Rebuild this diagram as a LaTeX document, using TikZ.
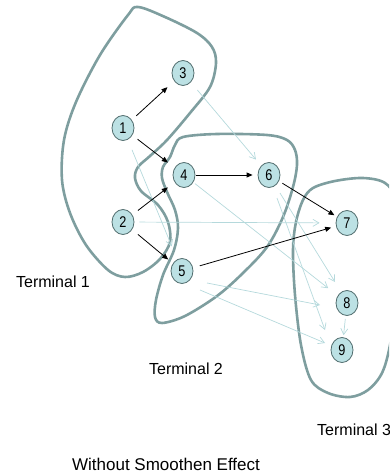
\documentclass[tikz,border=0pt]{standalone}
\usepackage{fontspec}
\setmainfont{Liberation Sans}
\newfontfamily\digitfont[FakeStretch=0.82]{Liberation Sans}
\usetikzlibrary{arrows.meta,calc,shapes.geometric}
\definecolor{blobline}{HTML}{7E9E9F}
\definecolor{nodefill}{HTML}{BCE1E4}
\definecolor{nodeline}{HTML}{4F6B6C}
\definecolor{faint}{HTML}{B5D9DC}
\begin{document}
\begin{tikzpicture}[x=1pt,y=-1pt,
  vertex/.style={ellipse, draw=nodeline, line width=0.8pt, fill=nodefill,
    minimum width=22pt, minimum height=25pt, inner sep=0pt,
    font=\digitfont\fontsize{15.5}{15.5}\selectfont},
  region/.style={draw=blobline, line width=2.6pt},
  strong/.style={-{Triangle[length=6pt,width=5pt]}, line width=0.8pt, black},
  lite/.style={-{Straight Barb[length=6pt,width=7pt]}, line width=0.7pt, faint},
  termtext/.style={font=\fontsize{16}{19}\selectfont, inner sep=0pt}]
\useasboundingbox (0,0) rectangle (389,476);
\clip (0,0) rectangle (389,476);

% terminal regions
\draw[region] plot[smooth cycle, tension=0.55] coordinates {
  (138,7) (165,17) (197,33) (212,47) (216,63) (210,87) (190,113) (167,140)
  (150,156) (138,167) (135,178) (141,191) (158,205) (168,222) (170,242)
  (160,259) (143,272) (125,277) (108,270) (86,245) (70,213) (62,180)
  (64,140) (76,102) (100,55) (128,15)};
\draw[region] plot[smooth cycle, tension=0.55] coordinates {
  (183,137) (217,134) (267,135) (287,140) (295,150) (297,165) (293,187)
  (283,217) (267,247) (243,273) (217,296) (185,316) (162,323) (155,317)
  (156,300) (163,275) (174,250) (178,228) (175,210) (167,192) (162,178)
  (163,167) (170,157) (175,145)};
\draw[region] plot[smooth cycle, tension=0.55] coordinates {
  (313,188) (335,181) (363,178) (385,183) (395,200) (398,250) (396,300)
  (390,345) (382,373) (368,390) (350,397) (328,393) (311,380) (301,345)
  (295,295) (293,250) (296,222) (303,200)};

% vertices
\node[vertex] (n1) at (123,128) {1};
\node[vertex] (n2) at (123,222) {2};
\node[vertex] (n3) at (183,73) {3};
\node[vertex] (n4) at (184,175) {4};
\node[vertex] (n5) at (182,271) {5};
\node[vertex] (n6) at (269,175) {6};
\node[vertex] (n7) at (347,223) {7};
\node[vertex] (n8) at (347,303) {8};
\node[vertex] (n9) at (342,350) {9};

% secondary dependencies
\draw[lite, shorten <=10pt, shorten >=8pt] (n3) -- (n6);
\draw[lite, shorten <=11pt, shorten >=14pt] (n1) -- (n5);
\draw[lite, shorten <=5pt, shorten >=16pt] (n2) -- (n7);
\draw[lite, shorten <=2pt, shorten >=12pt] (n4) -- (n8);
\draw[lite, shorten <=3pt, shorten >=2pt] (n8) -- (n9);
\draw[lite] ($(n6)+(8,23)$) -- ($(n9)+(-17,-20)$);
\draw[lite] ($(n6)+(11,18)$) -- ($(n8)+(-12,-21)$);
\draw[lite] ($(n5)+(25,12)$) -- ($(n8)+(-27,2)$);
\draw[lite] ($(n5)+(18,19)$) -- ($(n9)+(-17,-7)$);

% main dependencies
\draw[strong, shorten <=6pt, shorten >=9pt] (n1) -- (n3);
\draw[strong, shorten <=6.5pt, shorten >=8.5pt] (n1) -- (n4);
\draw[strong, shorten <=7pt, shorten >=8.5pt] (n2) -- (n4);
\draw[strong, shorten <=7.5pt, shorten >=6pt] (n2) -- (n5);
\draw[strong, shorten <=1pt, shorten >=5pt] (n4) -- (n6);
\draw[strong, shorten <=4pt, shorten >=3pt] (n6) -- (n7);
\draw[strong, shorten <=7pt, shorten >=5pt] (n5) -- (n7);

% labels
\node[termtext] (t1) at (53,282) {Terminal 1};
\node[termtext] (t2) at (186,369) {Terminal 2};
\node[termtext, anchor=west] (t3) at (317,430) {Terminal 3};
\node[termtext, font=\fontsize{17}{20}\selectfont] (cap) at (166,464) {Without Smoothen Effect};
\end{tikzpicture}
\end{document}
